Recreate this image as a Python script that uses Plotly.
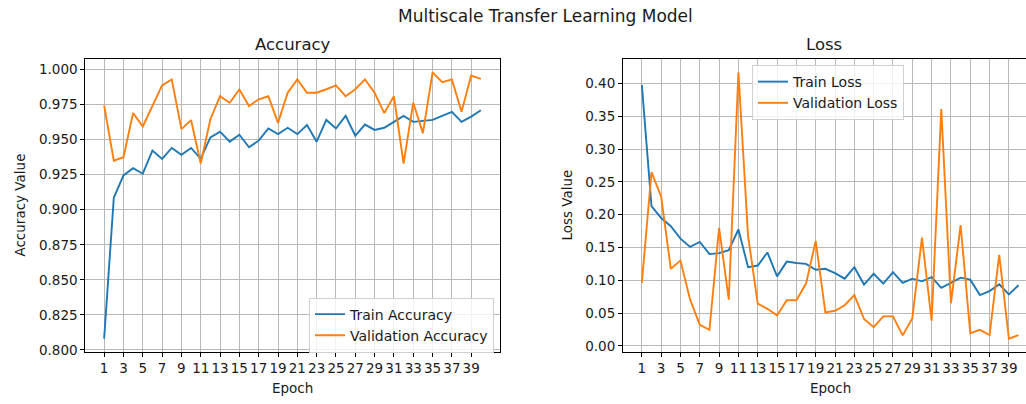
import plotly.graph_objects as go

# ---------------- data ----------------
epochs = list(range(1, 41))

train_acc = [0.808, 0.9085, 0.9245, 0.9297, 0.9257, 0.9422, 0.9363, 0.9441, 0.9392, 0.9441,
             0.9363, 0.9516, 0.9557, 0.9486, 0.9535, 0.9446, 0.9493, 0.958, 0.954, 0.9585,
             0.954, 0.9604, 0.9486, 0.9641, 0.958, 0.967, 0.9528, 0.9608, 0.957, 0.9585,
             0.9627, 0.967, 0.9627, 0.9634, 0.9641, 0.967, 0.9698, 0.9627, 0.9665, 0.971]

val_acc = [0.9745, 0.935, 0.9375, 0.969, 0.9594, 0.974, 0.9887, 0.993, 0.9575, 0.964,
           0.933, 0.9646, 0.981, 0.9764, 0.9858, 0.974, 0.9788, 0.981, 0.962, 0.9835,
           0.993, 0.9835, 0.9835, 0.986, 0.9887, 0.981, 0.986, 0.993, 0.9835, 0.969,
           0.981, 0.933, 0.9764, 0.9547, 0.998, 0.991, 0.993, 0.970, 0.9958, 0.9934]

train_loss = [0.398, 0.213, 0.195, 0.1825, 0.1635, 0.151, 0.1585, 0.140, 0.1415, 0.146,
              0.1775, 0.120, 0.1225, 0.1425, 0.106, 0.1285, 0.1265, 0.125, 0.116, 0.1175,
              0.111, 0.1025, 0.120, 0.0935, 0.110, 0.095, 0.1125, 0.096, 0.1025, 0.0985,
              0.105, 0.0885, 0.096, 0.104, 0.101, 0.0775, 0.0835, 0.094, 0.0785, 0.0925]

val_loss = [0.096, 0.265, 0.2276, 0.1175, 0.130, 0.0705, 0.032, 0.0245, 0.180, 0.0705,
            0.417, 0.1675, 0.0645, 0.0565, 0.0465, 0.0695, 0.0695, 0.095, 0.160, 0.051,
            0.0535, 0.062, 0.0775, 0.041, 0.0285, 0.045, 0.045, 0.016, 0.042, 0.165,
            0.0385, 0.361, 0.065, 0.184, 0.0195, 0.0245, 0.0165, 0.139, 0.011, 0.0165]

x_ticks = list(range(1, 40, 2))
acc_ticks = [0.800, 0.825, 0.850, 0.875, 0.900, 0.925, 0.950, 0.975, 1.000]
acc_tick_labels = ["0.800", "0.825", "0.850", "0.875", "0.900", "0.925", "0.950", "0.975", "1.000"]
loss_ticks = [0.00, 0.05, 0.10, 0.15, 0.20, 0.25, 0.30, 0.35, 0.40]
loss_tick_labels = ["0.00", "0.05", "0.10", "0.15", "0.20", "0.25", "0.30", "0.35", "0.40"]

series_names = ["Train Accuracy", "Validation Accuracy", "Train Loss", "Validation Loss"]

# ---------------- layout helpers ----------------
W, H = 1026, 404
BLUE, ORANGE = "#1f77b4", "#ff7f0e"
FONT = "DejaVu Sans"
TXT = "#1a1a1a"


def px(sx):
    return sx / W


def py(sy):
    return 1 - sy / H


def padded(vals, m=0.05):
    lo, hi = min(vals), max(vals)
    span = hi - lo
    return [lo - m * span, hi + m * span]


# axes geometry in screen pixels
L1, R1 = 85.3, 499.7
L2 = 623.0
R2_full = L2 + (R1 - L1)
TOP, BOT = 60.0, 357.3

x1_range = padded(epochs)
x2_full = padded(epochs)
frac = (W - L2) / (R2_full - L2)
x2_range = [x2_full[0], x2_full[0] + (x2_full[1] - x2_full[0]) * frac]

ydom = [py(BOT), py(TOP)]

fig = go.Figure()
fig.add_trace(go.Scatter(x=epochs, y=train_acc, mode="lines", name=series_names[0],
                         line=dict(color=BLUE, width=1.9), xaxis="x", yaxis="y", legend="legend"))
fig.add_trace(go.Scatter(x=epochs, y=val_acc, mode="lines", name=series_names[1],
                         line=dict(color=ORANGE, width=1.9), xaxis="x", yaxis="y", legend="legend"))
fig.add_trace(go.Scatter(x=epochs, y=train_loss, mode="lines", name=series_names[2],
                         line=dict(color=BLUE, width=1.9), xaxis="x2", yaxis="y2", legend="legend2"))
fig.add_trace(go.Scatter(x=epochs, y=val_loss, mode="lines", name=series_names[3],
                         line=dict(color=ORANGE, width=1.9), xaxis="x2", yaxis="y2", legend="legend2"))

axis_common = dict(
    showgrid=True, gridcolor="#b8b8b8", gridwidth=0.9,
    showline=True, linecolor="black", linewidth=1,
    ticks="outside", ticklen=4, tickcolor="black", tickwidth=1,
    zeroline=False, tickfont=dict(family=FONT, size=13.5, color=TXT),
)

legend_common = dict(
    bgcolor="rgba(255,255,255,0.8)", bordercolor="#d0d0d0", borderwidth=1,
    font=dict(family=FONT, size=14, color=TXT), itemwidth=30, tracegroupgap=0,
)

fig.update_layout(
    width=W, height=H,
    margin=dict(l=0, r=0, t=0, b=0),
    paper_bgcolor="white", plot_bgcolor="white",
    font=dict(family=FONT, size=13, color=TXT),
    xaxis=dict(domain=[px(L1), px(R1)], range=x1_range, tickvals=x_ticks,
               mirror=True, anchor="y", **axis_common),
    yaxis=dict(domain=ydom, range=padded(train_acc + val_acc), tickvals=acc_ticks,
               ticktext=acc_tick_labels, mirror=True, anchor="x", **axis_common),
    xaxis2=dict(domain=[px(L2), 1.0], range=x2_range, tickvals=x_ticks,
                mirror=True, anchor="y2", **axis_common),
    yaxis2=dict(domain=ydom, range=padded(train_loss + val_loss), tickvals=loss_ticks,
                ticktext=loss_tick_labels, mirror=False, anchor="x2", **axis_common),
    legend=dict(x=px(494), y=py(302), xanchor="right", yanchor="top", **legend_common),
    legend2=dict(x=px(752), y=py(66), xanchor="left", yanchor="top", **legend_common),
    showlegend=True,
)

ann = []
ann.append(dict(text="Multiscale Transfer Learning Model", x=px(545), y=py(16),
                xref="paper", yref="paper", xanchor="center", yanchor="middle",
                showarrow=False, font=dict(family=FONT, size=17, color=TXT)))
ann.append(dict(text="Accuracy", x=px((L1 + R1) / 2), y=py(45),
                xref="paper", yref="paper", xanchor="center", yanchor="middle",
                showarrow=False, font=dict(family=FONT, size=16.5, color=TXT)))
ann.append(dict(text="Loss", x=px((L2 + R2_full) / 2 - 6), y=py(45),
                xref="paper", yref="paper", xanchor="center", yanchor="middle",
                showarrow=False, font=dict(family=FONT, size=16.5, color=TXT)))
ann.append(dict(text="Epoch", x=px((L1 + R1) / 2), y=py(394),
                xref="paper", yref="paper", xanchor="center", yanchor="middle",
                showarrow=False, font=dict(family=FONT, size=13.5, color=TXT)))
ann.append(dict(text="Epoch", x=px((L2 + R2_full) / 2), y=py(394),
                xref="paper", yref="paper", xanchor="center", yanchor="middle",
                showarrow=False, font=dict(family=FONT, size=13.5, color=TXT)))
ann.append(dict(text="Accuracy Value", x=px(20), y=py((TOP + BOT) / 2),
                xref="paper", yref="paper", xanchor="center", yanchor="middle", textangle=-90,
                showarrow=False, font=dict(family=FONT, size=13.5, color=TXT)))
ann.append(dict(text="Loss Value", x=px(567), y=py((TOP + BOT) / 2),
                xref="paper", yref="paper", xanchor="center", yanchor="middle", textangle=-90,
                showarrow=False, font=dict(family=FONT, size=13.5, color=TXT)))
fig.update_layout(annotations=ann)

# remove the browser's default 8px body margin so figure pixels map 1:1 onto the page
fig.write_html(
    "out.html",
    config={"displayModeBar": False},
    post_script="document.body.style.margin='0';document.body.style.overflow='hidden';",
)
